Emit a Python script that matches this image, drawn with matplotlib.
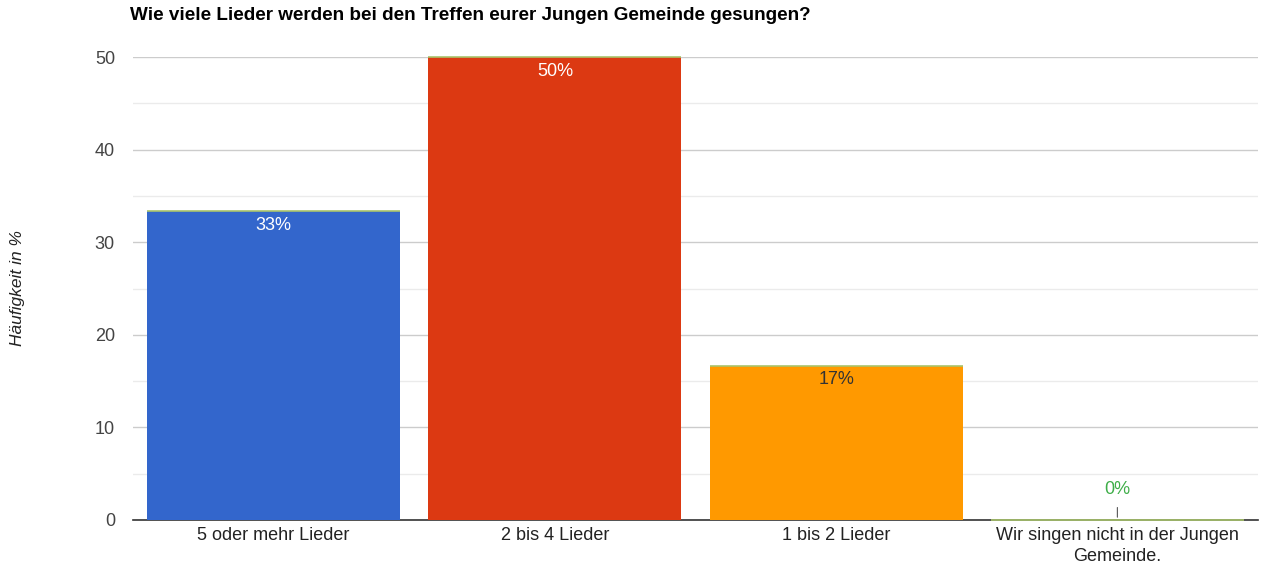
import matplotlib
matplotlib.use("Agg")
import matplotlib.pyplot as plt
from matplotlib.ticker import MultipleLocator

categories = ["5 oder mehr Lieder", "2 bis 4 Lieder", "1 bis 2 Lieder",
              "Wir singen nicht in der Jungen\nGemeinde."]
values = [33.33, 50.0, 16.67, 0.0]
bar_colors = ["#3366cc", "#dc3912", "#ff9900", "#a9c46c"]
label_colors = ["white", "white", "#333333", "#3fae49"]
yticks = [0, 10, 20, 30, 40, 50]

plt.rcParams['font.family'] = ['Liberation Sans', 'DejaVu Sans']

fig = plt.figure(figsize=(12.65, 5.72), dpi=100)
ax = fig.add_axes([133/1265, 1-520/572, (1258-133)/1265, (520-57)/572])

x = list(range(len(categories)))
width = 0.9
ax.bar(x, values, width=width, color=bar_colors, zorder=3)
# thin green top edge (zero series stacked on top)
ax.hlines(values, [i - width/2 for i in x], [i + width/2 for i in x],
          colors="#a9c46c", linewidth=1.2, zorder=4, clip_on=False)

for i, v in enumerate(values):
    txt = f"{round(v)}%"
    if v > 3:
        ax.annotate(txt, (i, v), xytext=(0, -4), textcoords="offset points",
                    ha="center", va="top", color=label_colors[i], fontsize=13, zorder=5)
    else:
        ax.annotate(txt, (i, v), xytext=(0, 16), textcoords="offset points",
                    ha="center", va="bottom", color=label_colors[i], fontsize=13, zorder=5)
        ax.annotate("", (i, v), xytext=(0, 11), textcoords="offset points",
                    arrowprops=dict(arrowstyle="-", color="#555555", lw=0.8), zorder=5)

ax.set_xlim(-0.5, len(categories) - 0.5)
ax.set_ylim(0, 50)
ax.set_yticks(yticks)
ax.yaxis.set_minor_locator(MultipleLocator(5))
ax.set_xticks(x)
ax.set_xticklabels(categories, fontsize=13, color="#222222", linespacing=1.35)
ax.tick_params(axis="x", length=0, pad=5)
ax.tick_params(axis="y", which="both", length=0, pad=13, labelsize=13, labelcolor="#444444")

ax.grid(axis="y", which="major", color="#cccccc", linewidth=1, zorder=0)
ax.grid(axis="y", which="minor", color="#ebebeb", linewidth=1, zorder=0)
ax.set_axisbelow(True)
for s in ["top", "right", "left"]:
    ax.spines[s].set_visible(False)
ax.spines["bottom"].set_color("#333333")
ax.spines["bottom"].set_linewidth(1.2)
ax.spines["bottom"].set_zorder(2)

fig.text(130/1265, 1-16/572, "Wie viele Lieder werden bei den Treffen eurer Jungen Gemeinde gesungen?",
         fontsize=13.6, fontweight="bold", ha="left", va="center", color="#000000")
fig.text(18/1265, 1-288/572, "Häufigkeit in %", rotation=90, style="italic",
         fontsize=12.5, ha="center", va="center", color="#222222")

fig.savefig("out.png", dpi=100)
